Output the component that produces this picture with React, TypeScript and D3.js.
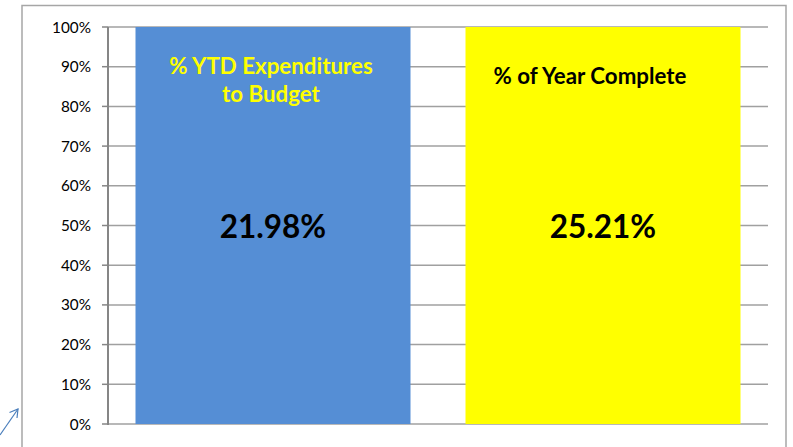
import React from "react";
import * as d3 from "d3";

const categories = ["ytd", "year"];
const barValues = [1, 1];
const valueLabels = ["21.98%", "25.21%"];
const titleLines = [["% YTD Expenditures", "to Budget"], ["% of Year Complete"]];
const barColors = ["#558ed5", "#ffff00"];
const titleColors = ["#ffff00", "#000000"];
const yTicks = [0, 0.1, 0.2, 0.3, 0.4, 0.5, 0.6, 0.7, 0.8, 0.9, 1.0];

const W = 793;
const H = 447;
const plot = { left: 108, right: 768, top: 27, bottom: 424 };
const FONT = "Lato, 'Open Sans', sans-serif";

export default function App() {
  const x = d3
    .scaleBand<string>()
    .domain(categories)
    .range([plot.left, plot.right])
    .paddingInner(55 / 330)
    .paddingOuter(27.5 / 330);
  const y = d3.scaleLinear().domain([0, 1]).range([plot.bottom, plot.top]);
  const fmt = d3.format(".0%");
  const titleOffsets = [-2, -13];
  const titleTop = [74, 84];

  return (
    <div style={{ position: "fixed", left: 0, top: 0, width: W, height: H, background: "#fff" }}>
      <svg width={W} height={H} style={{ display: "block" }}>
        <rect x={0} y={0} width={W} height={H} fill="#fff" />
        {/* outer chart frame */}
        <rect x={22} y={5.5} width={764} height={460} fill="none" stroke="#a6a6a6" strokeWidth={1.5} />
        {/* gridlines */}
        {yTicks.map((t) => (
          <line key={"g" + t} x1={plot.left} x2={plot.right} y1={y(t)} y2={y(t)} stroke="#a0a0a0" strokeWidth={1.5} />
        ))}
        {/* bars */}
        {categories.map((c, i) => (
          <rect
            key={c}
            x={x(c)}
            y={y(barValues[i])}
            width={x.bandwidth()}
            height={y(0) - y(barValues[i])}
            fill={barColors[i]}
          />
        ))}
        {/* axis */}
        <line x1={plot.left} x2={plot.left} y1={plot.top} y2={plot.bottom + 1} stroke="#868686" strokeWidth={2} />
        {yTicks.map((t) => (
          <g key={"t" + t}>
            <line x1={plot.left - 6} x2={plot.left} y1={y(t)} y2={y(t)} stroke="#868686" strokeWidth={1.5} />
            <text x={91} y={y(t)} dy="0.36em" textAnchor="end" fontFamily={FONT} fontSize={15.3} fill="#000">
              {fmt(t)}
            </text>
          </g>
        ))}
        {/* bar titles */}
        {categories.map((c, i) => (
          <text
            key={"title" + c}
            textAnchor="middle"
            fontFamily={FONT}
            fontWeight="bold"
            fontSize={22.3}
            fill={titleColors[i]}
          >
            {titleLines[i].map((ln, j) => (
              <tspan key={j} x={x(c)! + x.bandwidth() / 2 + titleOffsets[i]} y={titleTop[i] + j * 28}>
                {ln}
              </tspan>
            ))}
          </text>
        ))}
        {/* value labels */}
        {categories.map((c, i) => (
          <text
            key={"v" + c}
            x={x(c)! + x.bandwidth() / 2}
            y={238}
            textAnchor="middle"
            fontFamily={FONT}
            fontWeight="bold"
            fontSize={31.5}
            fill="#000"
          >
            {valueLabels[i]}
          </text>
        ))}
        {/* small annotation arrow */}
        <g stroke="#4a7ebb" strokeWidth={1.2} fill="none">
          <line x1={0} y1={435} x2={18} y2={409} />
          <polyline points="9.5,412.5 18,409 17,418" />
        </g>
      </svg>
    </div>
  );
}
